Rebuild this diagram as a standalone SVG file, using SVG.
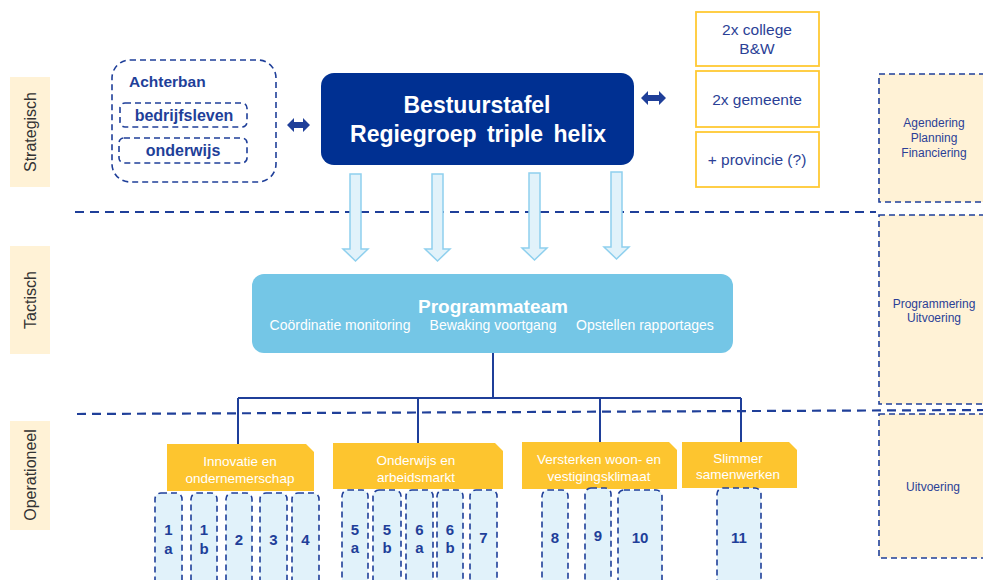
<svg xmlns="http://www.w3.org/2000/svg" width="983" height="580" viewBox="0 0 983 580">
<style>
.lbl{fill:#FFF2D6}
.lbltxt{font-family:"Liberation Sans",Arial,sans-serif;font-size:16px;fill:#333333}
.dash{fill:none;stroke:#1F3F99;stroke-width:1.6;stroke-dasharray:6 4}
.bt{font-family:"Liberation Sans",Arial,sans-serif;font-weight:bold;fill:#1F3F99}
.rt{font-family:"Liberation Sans",Arial,sans-serif;fill:#2B3F96}
.ybox{fill:#FFFFFF;stroke:#FFC933;stroke-width:1.8}
.cream{fill:#FFF2D6;stroke:#1F3F99;stroke-width:1.6;stroke-dasharray:6 4}
.wt{font-family:"Liberation Sans",Arial,sans-serif;fill:#FFFFFF}
.tab{fill:#FDC52F}
.num{fill:#E1F2FA;stroke:#1F3F99;stroke-width:1.6;stroke-dasharray:6 4}
.nt{font-family:"Liberation Sans",Arial,sans-serif;font-weight:bold;font-size:15px;fill:#1F3F99;text-anchor:middle}
.lvl{fill:none;stroke:#1F3F99;stroke-width:2.2;stroke-dasharray:9 6}
.tree{fill:none;stroke:#1F3F99;stroke-width:2}
.down{fill:#E1F2FA;stroke:#8FD0EE;stroke-width:1.5}
.dbl{fill:#1F3F99}
</style>

<!-- level labels -->
<g id="label-strategisch">
<rect class="lbl" x="10" y="77" width="40" height="110"/>
<text class="lbltxt" transform="translate(36,132) rotate(-90)" text-anchor="middle">Strategisch</text>
</g>
<g id="label-tactisch">
<rect class="lbl" x="10" y="246" width="40" height="108"/>
<text class="lbltxt" transform="translate(36,300) rotate(-90)" text-anchor="middle">Tactisch</text>
</g>
<g id="label-operationeel">
<rect class="lbl" x="10" y="421" width="40" height="109"/>
<text class="lbltxt" transform="translate(36,475) rotate(-90)" text-anchor="middle">Operationeel</text>
</g>

<!-- right column -->
<g id="agendering">
<rect class="cream" x="879" y="74" width="112" height="128"/>
<text class="rt" font-size="12" text-anchor="middle"><tspan x="934" y="127">Agendering</tspan><tspan x="934" y="142">Planning</tspan><tspan x="934" y="157">Financiering</tspan></text>
</g>
<g id="programmering">
<rect class="cream" x="879" y="215" width="112" height="189"/>
<text class="rt" font-size="12" text-anchor="middle"><tspan x="934" y="308">Programmering</tspan><tspan x="934" y="322">Uitvoering</tspan></text>
</g>
<g id="uitvoering">
<rect class="cream" x="879" y="414" width="112" height="144"/>
<text class="rt" font-size="12" text-anchor="middle" x="933" y="491">Uitvoering</text>
</g>

<!-- level dividers -->
<g id="dividers">
<line class="lvl" x1="75" y1="212" x2="876" y2="212"/>
<line class="lvl" x1="77" y1="414" x2="983" y2="410"/>
</g>

<!-- achterban -->
<g id="achterban">
<rect class="dash" x="112" y="60" width="164" height="122" rx="18"/>
<text class="bt" font-size="15.5" x="129" y="87">Achterban</text>
<rect class="dash" x="120" y="103" width="127" height="24" rx="5"/>
<text class="bt" font-size="16" x="184" y="121" text-anchor="middle">bedrijfsleven</text>
<rect class="dash" x="119" y="138" width="128" height="25" rx="5"/>
<text class="bt" font-size="16" x="183" y="156" text-anchor="middle">onderwijs</text>
</g>

<!-- bestuurstafel -->
<g id="bestuurstafel">
<rect x="321" y="73" width="313" height="92" rx="13" fill="#003092"/>
<text class="wt" font-weight="bold" font-size="23" text-anchor="middle" x="477" y="113">Bestuurstafel</text>
<text class="wt" font-weight="bold" font-size="23" text-anchor="middle" x="478" y="142" word-spacing="4">Regiegroep triple helix</text>
</g>

<!-- overheid boxes -->
<g id="college">
<rect class="ybox" x="696" y="12" width="123" height="54"/>
<text class="rt" font-size="15.5" text-anchor="middle"><tspan x="757" y="35">2x college</tspan><tspan x="757" y="54">B&amp;W</tspan></text>
</g>
<g id="gemeente">
<rect class="ybox" x="696" y="71" width="123" height="56"/>
<text class="rt" font-size="15.5" text-anchor="middle" x="757" y="105">2x gemeente</text>
</g>
<g id="provincie">
<rect class="ybox" x="696" y="132" width="123" height="55"/>
<text class="rt" font-size="15.5" text-anchor="middle" x="757" y="165">+ provincie (?)</text>
</g>

<!-- programmateam -->
<g id="programmateam">
<rect x="252" y="274" width="481" height="79" rx="12" fill="#74C6E6"/>
<text class="wt" font-weight="bold" font-size="19" text-anchor="middle" x="493" y="313">Programmateam</text>
<text class="wt" font-size="14" text-anchor="middle" x="340" y="330">Coördinatie monitoring</text>
<text class="wt" font-size="14" text-anchor="middle" x="493" y="330">Bewaking voortgang</text>
<text class="wt" font-size="14" text-anchor="middle" x="645" y="330">Opstellen rapportages</text>
</g>

<!-- thema tabs -->
<g id="tab-innovatie">
<path class="tab" d="M167,444 H306 L314,452 V491 H167 Z"/>
<text class="wt" font-size="13.5" text-anchor="middle"><tspan x="240" y="466">Innovatie en</tspan><tspan x="240" y="483">ondernemerschap</tspan></text>
</g>
<g id="tab-onderwijs">
<path class="tab" d="M333,443 H495 L503,451 V489 H333 Z"/>
<text class="wt" font-size="13.5" text-anchor="middle"><tspan x="416" y="465">Onderwijs en</tspan><tspan x="416" y="482">arbeidsmarkt</tspan></text>
</g>
<g id="tab-versterken">
<path class="tab" d="M522,442 H669 L677,450 V489 H522 Z"/>
<text class="wt" font-size="13.5" text-anchor="middle"><tspan x="599" y="464">Versterken woon- en</tspan><tspan x="599" y="481">vestigingsklimaat</tspan></text>
</g>
<g id="tab-slimmer">
<path class="tab" d="M682,442 H789 L797,450 V488 H682 Z"/>
<text class="wt" font-size="13.5" text-anchor="middle"><tspan x="738" y="463">Slimmer</tspan><tspan x="738" y="479">samenwerken</tspan></text>
</g>

<!-- project boxes -->
<g id="p1a"><rect class="num" x="155" y="493" width="27" height="100" rx="6"/><text class="nt"><tspan x="168.5" y="535">1</tspan><tspan x="168.5" y="554">a</tspan></text></g>
<g id="p1b"><rect class="num" x="191" y="493" width="26" height="100" rx="6"/><text class="nt"><tspan x="204" y="535">1</tspan><tspan x="204" y="554">b</tspan></text></g>
<g id="p2"><rect class="num" x="226" y="493" width="26" height="100" rx="6"/><text class="nt" x="239" y="545">2</text></g>
<g id="p3"><rect class="num" x="260" y="493" width="27" height="100" rx="6"/><text class="nt" x="273.5" y="545">3</text></g>
<g id="p4"><rect class="num" x="292" y="493" width="27" height="100" rx="6"/><text class="nt" x="305.5" y="545">4</text></g>

<g id="p5a"><rect class="num" x="342" y="490" width="26" height="100" rx="6"/><text class="nt"><tspan x="355" y="535">5</tspan><tspan x="355" y="553">a</tspan></text></g>
<g id="p5b"><rect class="num" x="373" y="490" width="28" height="100" rx="6"/><text class="nt"><tspan x="387" y="535">5</tspan><tspan x="387" y="553">b</tspan></text></g>
<g id="p6a"><rect class="num" x="406" y="490" width="27" height="100" rx="6"/><text class="nt"><tspan x="419.5" y="535">6</tspan><tspan x="419.5" y="553">a</tspan></text></g>
<g id="p6b"><rect class="num" x="437" y="490" width="26" height="100" rx="6"/><text class="nt"><tspan x="450" y="535">6</tspan><tspan x="450" y="553">b</tspan></text></g>
<g id="p7"><rect class="num" x="470" y="490" width="27" height="100" rx="6"/><text class="nt" x="483.5" y="543">7</text></g>

<g id="p8"><rect class="num" x="542" y="490" width="26" height="100" rx="6"/><text class="nt" x="555" y="543">8</text></g>
<g id="p9"><rect class="num" x="585" y="488" width="26" height="102" rx="6"/><text class="nt" x="598" y="541">9</text></g>
<g id="p10"><rect class="num" x="618" y="490" width="44" height="100" rx="6"/><text class="nt" x="640" y="543">10</text></g>

<g id="p11"><rect class="num" x="717" y="488" width="44" height="102" rx="6"/><text class="nt" x="739" y="543">11</text></g>

<!-- connectors -->
<g id="connectors">
<polygon class="dbl" points="287,125 294,118 294,122 303,122 303,118 310,125 303,132 303,128 294,128 294,132"/>
<polygon class="dbl" points="641,98 648,91 648,95 659,95 659,91 666,98 659,105 659,101 648,101 648,105"/>
<polygon class="down" points="350,174 361,174 361,249 368,249 355.5,261 343,249 350,249"/>
<polygon class="down" points="432,174 443,174 443,249 450,249 437.5,261 425,249 432,249"/>
<polygon class="down" points="529,173 540,173 540,248 547,248 534.5,260 522,248 529,248"/>
<polygon class="down" points="611,172 622,172 622,247 629,247 616.5,259 604,247 611,247"/>
<path class="tree" d="M493,353 V398 M238,398 H741 M238,398 V444 M418,398 V443 M600,398 V442 M741,398 V442"/>
</g>
</svg>
